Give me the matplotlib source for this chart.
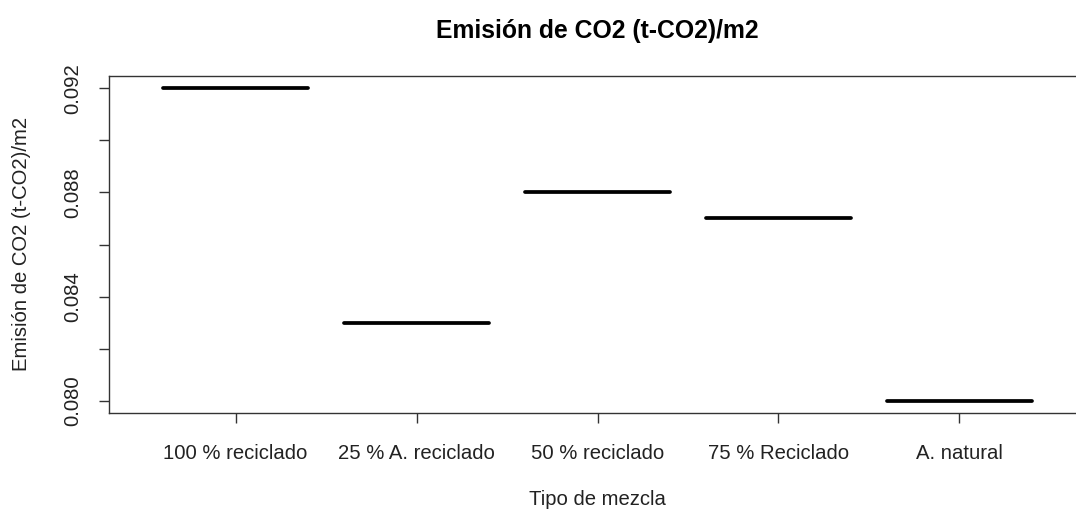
import numpy as np
import matplotlib.pyplot as plt

plt.rcParams["font.family"] = ["Liberation Sans", "DejaVu Sans"]

categories = ["100 % reciclado", "25 % A. reciclado", "50 % reciclado",
              "75 % Reciclado", "A. natural"]
emision = [0.092, 0.083, 0.088, 0.087, 0.080]

W, H = 1076, 511
fig = plt.figure(figsize=(W / 100, H / 100), dpi=100)

# axes box in pixels (R default margins, right side runs past the image)
left, right, top, bottom = 109, 1086, 76, 413
ax = fig.add_axes([left / W, 1 - bottom / H, (right - left) / W, (bottom - top) / H])

x = np.arange(1, len(categories) + 1)
ax.hlines(emision, x - 0.4, x + 0.4, colors="black", linewidth=2.7, capstyle="round")

ax.set_xlim(0.3, 5.7)
lo, hi = 0.080, 0.092
pad = (hi - lo) * 0.04
ax.set_ylim(lo - pad, hi + pad)

fs = 14.6
ax.set_xticks(x)
ax.set_xticklabels(categories, fontsize=fs, color="#222222")
yt = np.arange(0.080, 0.0921, 0.002)
ax.set_yticks(yt)
ax.set_yticklabels([f"{v:.3f}" if i % 2 == 0 else "" for i, v in enumerate(yt)],
                   rotation=90, va="center", fontsize=fs, color="#222222")
ax.tick_params(axis="both", length=7, width=1, color="#333333")
ax.tick_params(axis="x", pad=15)
ax.tick_params(axis="y", pad=12)

for s in ax.spines.values():
    s.set_color("#333333")
    s.set_linewidth(1)

fig.text((left + right) / 2 / W, 1 - 31 / H, "Emisión de CO2 (t-CO2)/m2",
         ha="center", va="center", fontsize=17.8, fontweight="bold")
fig.text((left + right) / 2 / W, 1 - 499 / H, "Tipo de mezcla",
         ha="center", va="center", fontsize=fs, color="#222222")
fig.text(22 / W, 1 - 244 / H, "Emisión de CO2 (t-CO2)/m2",
         ha="center", va="center", rotation=90, fontsize=fs, color="#222222")

fig.savefig("out.png", dpi=100)
